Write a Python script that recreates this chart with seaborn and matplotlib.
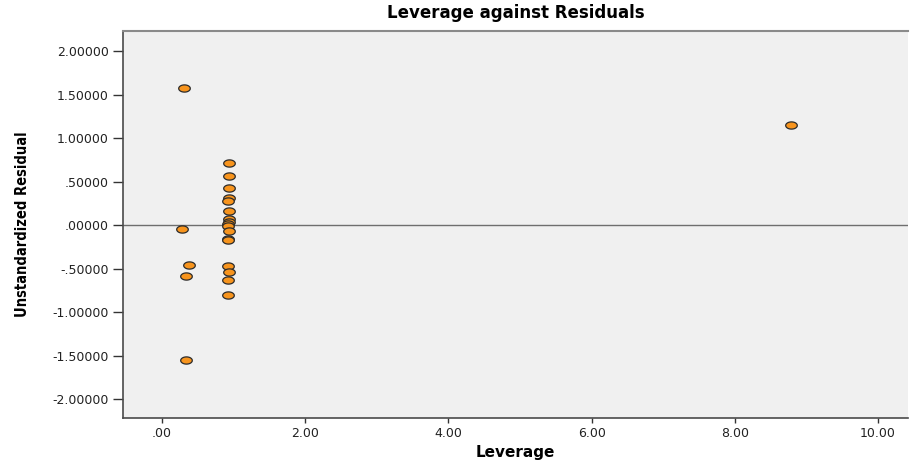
import numpy as np
import pandas as pd
import matplotlib
matplotlib.use("Agg")
import matplotlib.pyplot as plt
import seaborn as sns
from matplotlib.ticker import FuncFormatter

# values
leverage = [0.31, 0.28, 0.37, 0.33, 0.34,
            0.94, 0.94, 0.93, 0.93, 0.92, 0.93, 0.93, 0.93, 0.92, 0.92,
            0.93, 0.92, 0.92, 0.92, 0.93, 0.92, 0.92,
            8.78]
residual = [1.573, -0.046, -0.456, -0.582, -1.55,
            0.708, 0.562, 0.428, 0.313, 0.275, 0.157, 0.069, 0.034, 0.011, -0.008,
            -0.073, -0.161, -0.176, -0.470, -0.543, -0.631, -0.807,
            1.152]
x_ticks = [0, 2, 4, 6, 8, 10]
y_ticks = [-2.0, -1.5, -1.0, -0.5, 0.0, 0.5, 1.0, 1.5, 2.0]

df = pd.DataFrame({"Leverage": leverage, "Unstandardized Residual": residual})

sns.set_style("white")
plt.rcParams["font.family"] = ["DejaVu Sans"]

fig = plt.figure(figsize=(9.11, 4.61), dpi=100)
ax = fig.add_axes([0.1347, 0.0926, 0.862, 0.8402])
ax.set_facecolor("#f0f0f0")

# SPSS-like flat ellipse marker
t = np.linspace(0, 2 * np.pi, 40)
ellipse = np.column_stack([np.cos(t), 0.62 * np.sin(t)])

ax.axhline(0, color="#6e6e6e", lw=1.0, zorder=1)
sns.scatterplot(data=df, x="Leverage", y="Unstandardized Residual", ax=ax,
                marker=ellipse, s=70, color="#f7941d", edgecolor="#2b2b2b",
                linewidth=0.9, zorder=3)

ax.set_xlim(-0.55, 10.42)
ax.set_ylim(-2.22, 2.23)
ax.set_xticks(x_ticks)
ax.set_yticks(y_ticks)


def strip_zero(v, digits):
    s = f"{v:.{digits}f}"
    if s.startswith("0."):
        s = s[1:]
    elif s.startswith("-0."):
        s = "-" + s[2:]
    return s


ax.xaxis.set_major_formatter(FuncFormatter(lambda v, p: strip_zero(v, 2)))
ax.yaxis.set_major_formatter(FuncFormatter(lambda v, p: strip_zero(v, 5)))
ax.tick_params(axis="both", direction="out", width=1, color="#333333",
               labelsize=9, labelcolor="#222222", left=True, bottom=True)
ax.tick_params(axis="y", length=7, pad=3)
ax.tick_params(axis="x", length=3.6, pad=3)

for side in ["left", "bottom"]:
    ax.spines[side].set_color("#4a4a4a")
    ax.spines[side].set_linewidth(1.2)
ax.spines["top"].set_color("#8a8a8a")
ax.spines["top"].set_linewidth(1.5)
ax.spines["right"].set_visible(False)

ax.set_title("Leverage against Residuals", fontsize=12, fontweight="bold",
             color="black", pad=9)
ax.set_xlabel("Leverage", fontsize=11, fontweight="bold", color="black", labelpad=3)
ax.set_ylabel("Unstandardized Residual", fontsize=10.5, fontweight="bold",
              color="black", fontstretch="condensed", labelpad=16)

fig.savefig("out.png", dpi=100)
